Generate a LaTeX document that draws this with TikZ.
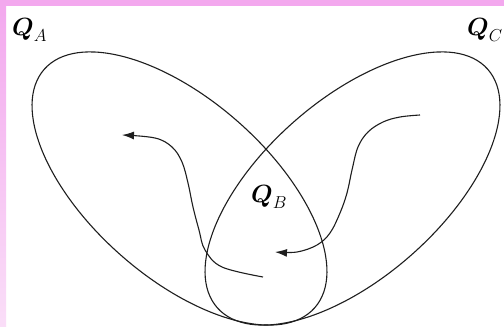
\documentclass[tikz,border=0pt]{standalone}
\usepackage{amsmath,amsbsy}
\usetikzlibrary{arrows.meta}
\definecolor{bandpink}{RGB}{243,168,238}
\definecolor{bandlight}{RGB}{250,222,248}
\definecolor{ink}{RGB}{30,30,30}
\tikzset{
  lobe/.style={draw=ink, line width=1.1pt},
  flow/.style={draw=ink, line width=1.1pt, -{Latex[length=12pt,width=8pt]}},
  qlabel/.style={anchor=base west, inner sep=0pt, font=\fontsize{27}{30}\selectfont}
}
\begin{document}
\begin{tikzpicture}[x=1pt,y=1pt]
\useasboundingbox (0,0) rectangle (504,327);
\fill[white] (0,0) rectangle (504,327);
\shade[top color=bandpink, bottom color=bandlight] (0,0) rectangle (6,327);
\fill[bandpink] (0,321) rectangle (504,327);
% lobes
\draw[lobe] (179.5,138.5) ellipse[x radius=180.3, y radius=88.8, rotate=-41.4];
\draw[lobe] (352.5,138.5) ellipse[x radius=180.3, y radius=88.8, rotate=41.4];
% labels
\node[qlabel] (qa) at (12,291) {$\boldsymbol{Q}_{A}$};
\node[qlabel] (qb) at (251,124) {$\boldsymbol{Q}_{B}$};
\node[qlabel] (qc) at (467,291) {$\boldsymbol{Q}_{C}$};
% flows
\coordinate (s1) at (263,50);
\coordinate (e1) at (122,192);
\coordinate (s2) at (420,212);
\coordinate (e2) at (275,75);
\draw[flow] plot[smooth, tension=0.6] coordinates {(s1) (222,60) (205,77) (199,97) (193,120) (188,144) (182,165) (172,180) (155,189) (e1)};
\draw[flow] plot[smooth, tension=0.6] coordinates {(s2) (400,210) (383,205) (368,195) (358,180) (352,157) (347,134) (340,114) (330,94) (317,82) (297,75) (e2)};
\end{tikzpicture}
\end{document}
